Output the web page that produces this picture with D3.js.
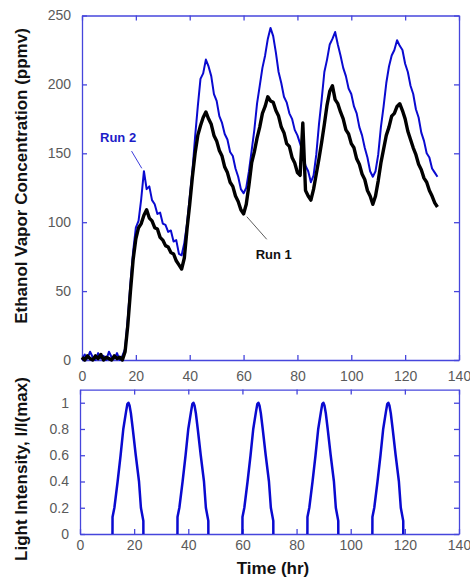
<!DOCTYPE html>
<html>
<head>
<meta charset="utf-8">
<script src="https://cdn.jsdelivr.net/npm/d3@7"></script>
<style>
  html, body { margin: 0; padding: 0; background: #fff; }
  svg { display: block; }
  .tick text { font-family: "Liberation Sans", Arial, sans-serif; font-size: 14px; fill: #5a5a5a; }
  .title { font-family: "Liberation Sans", Arial, sans-serif; font-size: 17px; font-weight: bold; fill: #111; }
  .runlabel { font-family: "Liberation Sans", Arial, sans-serif; font-size: 13px; font-weight: bold; }
</style>
</head>
<body>
<svg id="chart" width="470" height="579"></svg>
<script>
// Elapsed time grid (hr), one reading per hour
const hours = d3.range(0, 133);

// Ethanol vapor concentration (ppmv), Run 1
const run1 = [
  2,0,3,1,0,3,1,4,0,2,1,0,3,1,2,0,
  6,25,50,73,88,96,99,105,109,103,101,96,95,89,87,83,82,78,77,72,69,66,
  74,95,113,133,150,163,170,176,180,175,171,163,159,152,148,140,136,129,126,119,115,109,106,113,
  127,143,151,161,169,179,184,191,188,187,181,177,169,165,157,155,147,143,136,134,172,123,119,116,
  124,135,146,158,171,185,195,199,189,186,180,175,167,164,157,154,146,142,135,131,123,119,113,
  119,130,143,153,163,169,177,179,184,186,181,175,166,160,154,149,142,138,132,129,123,119,114,111
];

// Ethanol vapor concentration (ppmv), Run 2
const run2 = [
  0,4,1,6,2,0,5,1,3,0,6,2,1,5,0,3,
  8,30,56,79,96,101,117,137,124,126,116,113,106,107,99,98,93,94,86,87,77,76,
  85,99,118,137,162,184,204,208,218,213,206,193,188,177,172,164,160,151,148,139,133,124,121,125,
  137,152,167,186,199,212,221,233,241,235,223,209,201,191,187,179,175,167,163,157,151,141,137,129,
  134,149,171,189,209,218,229,233,238,229,221,212,206,197,193,184,179,169,163,154,147,137,133,
  137,149,169,184,201,213,221,225,232,228,225,215,209,199,193,182,176,165,159,150,147,139,136,133
];

// Light intensity pulses: hour and relative intensity (null = lamp off, no trace)
const lightHours = [
  12,12.02,12.7,13.9,15.0,16.0,17.0,17.5,17.9,18.3,18.8,19.5,20.6,21.8,22.5,23.4,23.42, null,
  36,36.02,36.7,37.9,39.0,40.0,41.0,41.5,41.9,42.3,42.8,43.5,44.6,45.8,46.5,47.4,47.42, null,
  60,60.02,60.7,61.9,63.0,64.0,65.0,65.5,65.9,66.3,66.8,67.5,68.6,69.8,70.5,71.4,71.42, null,
  84,84.02,84.7,85.9,87.0,88.0,89.0,89.5,89.9,90.3,90.8,91.5,92.6,93.8,94.5,95.4,95.42, null,
  108,108.02,108.7,109.9,111.0,112.0,113.0,113.5,113.9,114.3,114.8,115.5,116.6,117.8,118.5,119.4,119.42
];
const lightLevels = [
  0,0.13,0.2,0.4,0.6,0.8,0.93,0.99,1.0,0.98,0.92,0.8,0.6,0.4,0.2,0.1,0, null,
  0,0.13,0.2,0.4,0.6,0.8,0.93,0.99,1.0,0.98,0.92,0.8,0.6,0.4,0.2,0.1,0, null,
  0,0.13,0.2,0.4,0.6,0.8,0.93,0.99,1.0,0.98,0.92,0.8,0.6,0.4,0.2,0.1,0, null,
  0,0.13,0.2,0.4,0.6,0.8,0.93,0.99,1.0,0.98,0.92,0.8,0.6,0.4,0.2,0.1,0, null,
  0,0.13,0.2,0.4,0.6,0.8,0.93,0.99,1.0,0.98,0.92,0.8,0.6,0.4,0.2,0.1,0
];

// Tick values
const timeTicks = [0, 20, 40, 60, 80, 100, 120, 140];
const concTicks = [0, 50, 100, 150, 200, 250];
const lightTicks = [0, 0.2, 0.4, 0.6, 0.8, 1];

// Series labels with leader lines, in data units: [label hour, label ppmv, from hour, from ppmv, to hour, to ppmv]
const run2Note = ["Run 2", 6.7, 158.4, 18.4, 151.6, 22.2, 139.1];
const run1Note = ["Run 1", 64.5, 73.1, 68.6, 87.6, 61.2, 104.0];

const frameColor = "#4646dc";
const blue = "#0a0ad0";

const svg = d3.select("#chart");

// ---------- upper panel: ethanol concentration ----------
const xTop = d3.scaleLinear().domain([0, 140]).range([82, 459]);
const yTop = d3.scaleLinear().domain([0, 250]).range([360, 15.5]);

function styleAxis(g) {
  g.selectAll(".domain").attr("stroke", frameColor).attr("stroke-width", 1.3);
  g.selectAll(".tick line").attr("stroke", frameColor).attr("stroke-width", 1.3);
}

svg.append("g").attr("transform", `translate(0,${yTop(0)})`)
  .call(d3.axisBottom(xTop).tickValues(timeTicks).tickSizeInner(-5).tickSizeOuter(0).tickPadding(11).tickFormat(d3.format("d")))
  .call(styleAxis);
svg.append("g").attr("transform", `translate(0,${yTop(250)})`)
  .call(d3.axisTop(xTop).tickValues(timeTicks).tickSizeInner(-5).tickSizeOuter(0).tickFormat(""))
  .call(styleAxis);
svg.append("g").attr("transform", `translate(${xTop(0)},0)`)
  .call(d3.axisLeft(yTop).tickValues(concTicks).tickSizeInner(-5).tickSizeOuter(0).tickPadding(11).tickFormat(d3.format("d")))
  .call(styleAxis);
svg.append("g").attr("transform", `translate(${xTop(140)},0)`)
  .call(d3.axisRight(yTop).tickValues(concTicks).tickSizeInner(-5).tickSizeOuter(0).tickFormat(""))
  .call(styleAxis);

const concLine = series => d3.line()
  .x((d, i) => xTop(hours[i]))
  .y(d => yTop(d))(series);

svg.append("path").attr("d", concLine(run2))
  .attr("fill", "none").attr("stroke", blue).attr("stroke-width", 2).attr("stroke-linejoin", "round");
svg.append("path").attr("d", concLine(run1))
  .attr("fill", "none").attr("stroke", "#000").attr("stroke-width", 3.4).attr("stroke-linejoin", "round");

function note(n, color, lineColor) {
  svg.append("line")
    .attr("x1", xTop(n[3])).attr("y1", yTop(n[4]))
    .attr("x2", xTop(n[5])).attr("y2", yTop(n[6]))
    .attr("stroke", lineColor).attr("stroke-width", 0.8);
  svg.append("text").attr("class", "runlabel")
    .attr("x", xTop(n[1])).attr("y", yTop(n[2]))
    .attr("fill", color).text(n[0]);
}
note(run2Note, "#1c1cc8", blue);
note(run1Note, "#111", "#333");

svg.append("text").attr("class", "title")
  .attr("transform", "translate(27,176) rotate(-90)")
  .attr("text-anchor", "middle")
  .text("Ethanol Vapor Concentration (ppmv)");

// ---------- lower panel: light intensity ----------
const xBot = d3.scaleLinear().domain([0, 140]).range([80, 459]);
const yBot = d3.scaleLinear().domain([0, 1.1]).range([534, 389.6]);

svg.append("g").attr("transform", `translate(0,${yBot(0)})`)
  .call(d3.axisBottom(xBot).tickValues(timeTicks).tickSizeInner(-5).tickSizeOuter(0).tickPadding(6).tickFormat(d3.format("d")))
  .call(styleAxis);
svg.append("g").attr("transform", `translate(0,${yBot(1.1)})`)
  .call(d3.axisTop(xBot).tickValues(timeTicks).tickSizeInner(-5).tickSizeOuter(0).tickFormat(""))
  .call(styleAxis);
svg.append("g").attr("transform", `translate(${xBot(0)},0)`)
  .call(d3.axisLeft(yBot).tickValues(lightTicks).tickSizeInner(-5).tickSizeOuter(0).tickPadding(11).tickFormat(d => d === 0 ? "0" : d === 1 ? "1" : d3.format(".1f")(d)))
  .call(styleAxis);
svg.append("g").attr("transform", `translate(${xBot(140)},0)`)
  .call(d3.axisRight(yBot).tickValues(lightTicks).tickSizeInner(-5).tickSizeOuter(0).tickFormat(""))
  .call(styleAxis);

const lightLine = d3.line()
  .defined((d, i) => lightHours[i] !== null)
  .x((d, i) => xBot(lightHours[i]))
  .y(d => yBot(d));

svg.append("path").attr("d", lightLine(lightLevels))
  .attr("fill", "none").attr("stroke", blue).attr("stroke-width", 2.5).attr("stroke-linejoin", "round");

svg.append("text").attr("class", "title")
  .attr("transform", "translate(27,469) rotate(-90)")
  .attr("text-anchor", "middle")
  .text("Light Intensity, I/I(max)");

svg.append("text").attr("class", "title")
  .attr("x", 273).attr("y", 574)
  .attr("text-anchor", "middle")
  .text("Time (hr)");
</script>
</body>
</html>
